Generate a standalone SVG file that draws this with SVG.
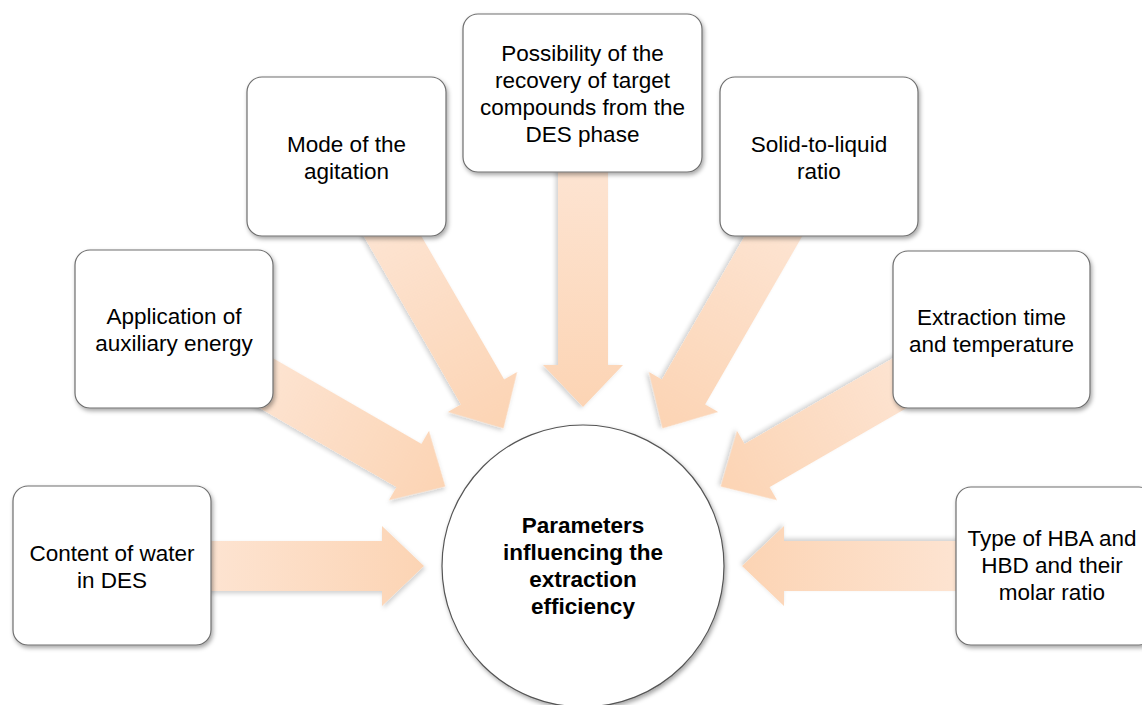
<svg xmlns="http://www.w3.org/2000/svg" width="1142" height="705" viewBox="0 0 1142 705">
  <defs>
    <linearGradient id="arrowGrad" x1="0" y1="0" x2="1" y2="0">
      <stop offset="0" stop-color="#fde4d2"/>
      <stop offset="1" stop-color="#fcd4b4"/>
    </linearGradient>
    <filter id="shadow" x="-20%" y="-20%" width="140%" height="140%">
      <feDropShadow dx="1.5" dy="2.5" stdDeviation="2" flood-color="#000" flood-opacity="0.35"/>
    </filter>
    <filter id="ashadow" x="-20%" y="-20%" width="140%" height="140%">
      <feDropShadow dx="1.5" dy="2.5" stdDeviation="2" flood-color="#000" flood-opacity="0.18"/>
    </filter>
  </defs>
  <style>
    .box { fill: #ffffff; stroke: #6f6f6f; stroke-width: 1.2; filter: url(#shadow); }
    .circ { fill: #ffffff; stroke: #555555; stroke-width: 1.2; filter: url(#shadow); }
    .arrow { fill: url(#arrowGrad); filter: url(#ashadow); }
    .lbl { font-family: "Liberation Sans", Arial, sans-serif; font-size: 22.5px; fill: #000; text-anchor: middle; }
    .center { font-family: "Liberation Sans", Arial, sans-serif; font-size: 22.5px; font-weight: bold; fill: #000; text-anchor: middle; }
  </style>
  <rect width="1142" height="705" fill="#ffffff"/>

  <g id="connectors">
    <polygon class="arrow" points="-380,-25 -201,-25 -201,-40 -159,0 -201,40 -201,25 -380,25" transform="translate(583 566) rotate(0)"/>
    <polygon class="arrow" points="-380,-25 -201,-25 -201,-40 -159,0 -201,40 -201,25 -380,25" transform="translate(583 566) rotate(30)"/>
    <polygon class="arrow" points="-400,-25 -201,-25 -201,-40 -159,0 -201,40 -201,25 -400,25" transform="translate(583 566) rotate(60)"/>
    <polygon class="arrow" points="-400,-25 -201,-25 -201,-40 -159,0 -201,40 -201,25 -400,25" transform="translate(583 566) rotate(90)"/>
    <polygon class="arrow" points="-400,-25 -201,-25 -201,-40 -159,0 -201,40 -201,25 -400,25" transform="translate(583 566) rotate(120)"/>
    <polygon class="arrow" points="-380,-25 -201,-25 -201,-40 -159,0 -201,40 -201,25 -380,25" transform="translate(583 566) rotate(150)"/>
    <polygon class="arrow" points="-380,-25 -201,-25 -201,-40 -159,0 -201,40 -201,25 -380,25" transform="translate(583 566) rotate(180)"/>
  </g>

  <g id="node-water">
    <rect class="box" x="13" y="486" width="198" height="159" rx="15"/>
    <text class="lbl" x="112" y="561">Content of water</text>
    <text class="lbl" x="112" y="588">in DES</text>
  </g>

  <g id="node-energy">
    <rect class="box" x="75" y="250" width="198" height="158" rx="15"/>
    <text class="lbl" x="174" y="324">Application of</text>
    <text class="lbl" x="174" y="351">auxiliary energy</text>
  </g>

  <g id="node-agitation">
    <rect class="box" x="247" y="77" width="199" height="159" rx="15"/>
    <text class="lbl" x="346.5" y="152">Mode of the</text>
    <text class="lbl" x="346.5" y="179">agitation</text>
  </g>

  <g id="node-recovery">
    <rect class="box" x="463" y="14" width="239" height="158" rx="15"/>
    <text class="lbl" x="582.5" y="61">Possibility of the</text>
    <text class="lbl" x="582.5" y="88">recovery of target</text>
    <text class="lbl" x="582.5" y="115">compounds from the</text>
    <text class="lbl" x="582.5" y="142">DES phase</text>
  </g>

  <g id="node-ratio">
    <rect class="box" x="720" y="77" width="198" height="159" rx="15"/>
    <text class="lbl" x="819" y="152">Solid-to-liquid</text>
    <text class="lbl" x="819" y="179">ratio</text>
  </g>

  <g id="node-time">
    <rect class="box" x="893" y="251" width="197" height="157" rx="15"/>
    <text class="lbl" x="991.5" y="325">Extraction time</text>
    <text class="lbl" x="991.5" y="352">and temperature</text>
  </g>

  <g id="node-hba">
    <rect class="box" x="956" y="487" width="198" height="158" rx="15"/>
    <text class="lbl" x="1052" y="546" font-size="21.5">Type of HBA and</text>
    <text class="lbl" x="1052" y="573" font-size="21.5">HBD and their</text>
    <text class="lbl" x="1052" y="600" font-size="21.5">molar ratio</text>
  </g>

  <g id="node-center">
    <circle class="circ" cx="583" cy="566" r="141"/>
    <text class="center" x="583" y="533">Parameters</text>
    <text class="center" x="583" y="560">influencing the</text>
    <text class="center" x="583" y="587">extraction</text>
    <text class="center" x="583" y="614">efficiency</text>
  </g>
</svg>
